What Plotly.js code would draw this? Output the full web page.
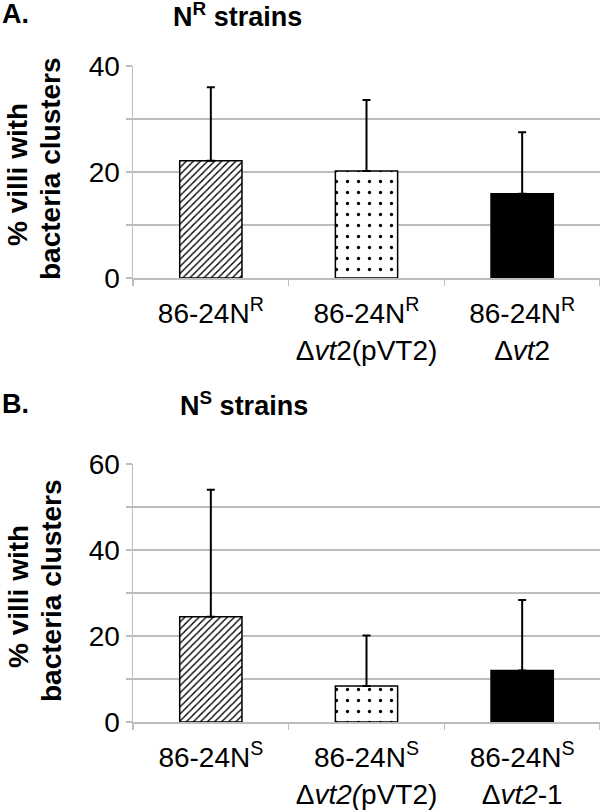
<!DOCTYPE html>
<html>
<head>
<meta charset="utf-8">
<script src="https://cdn.plot.ly/plotly-3.0.1.min.js"></script>
<style>
  body { margin: 0; background: white; }
  #chart { width: 600px; height: 811px; }
</style>
</head>
<body>
<div id="chart"></div>
<script>
// Panel A - N^R strains
var strainsA = ['86-24NR', '86-24NR dvt2(pVT2)', '86-24NR dvt2'];
var labelsA = ['86-24N<sup>R</sup>', '86-24N<sup>R</sup><br>\u0394<i>vt</i>2(pVT2)', '86-24N<sup>R</sup><br>\u0394<i>vt</i>2'];
var valuesA = [22.1, 20.2, 15.9];
var errorA = [13.9, 13.4, 11.6];

// Panel B - N^S strains
var strainsB = ['86-24NS', '86-24NS dvt2(pVT2)', '86-24NS dvt2-1'];
var labelsB = ['86-24N<sup>S</sup>', '86-24N<sup>S</sup><br>\u0394<i>vt2(</i>pVT2)', '86-24N<sup>S</sup><br>\u0394<i>vt2</i>-1'];
var valuesB = [24.5, 8.4, 12.0];
var errorB = [29.5, 11.7, 16.4];

var font = 'Liberation Sans, Arial, Helvetica, sans-serif';
var gray = '#bdbdbd';

// fill style of each bar: hatched, dotted, solid black
var fills = [
  {color: 'white', shape: '/', size: 5, solidity: 0.28},
  {color: 'white', shape: '.', size: 11, solidity: 0.07},
  {color: 'black', shape: '', size: 8, solidity: 0.3}
];

function barTraces(cats, vals, errs, xa, ya) {
  return cats.map(function(c, i) {
    var f = fills[i];
    return {
      x: [c],
      y: [vals[i]],
      type: 'bar',
      width: 0.4,
      marker: {
        color: f.color,
        line: {color: 'black', width: 1.5},
        pattern: {shape: f.shape, fillmode: 'replace', fgcolor: 'black', bgcolor: f.color,
          fgopacity: 1, size: f.size, solidity: f.solidity}
      },
      error_y: {type: 'data', symmetric: false, array: [errs[i]], arrayminus: [0],
        color: 'black', thickness: 2, width: 4},
      xaxis: xa,
      yaxis: ya,
      showlegend: false
    };
  });
}

var data = barTraces(strainsA, valuesA, errorA, 'x', 'y')
  .concat(barTraces(strainsB, valuesB, errorB, 'x2', 'y2'));

function xAxis(anchor, labels, cats) {
  return {
    anchor: anchor,
    type: 'category',
    categoryorder: 'array',
    categoryarray: cats,
    tickvals: cats,
    ticktext: labels,
    tickson: 'boundaries',
    ticks: 'outside',
    ticklen: 6,
    tickcolor: gray,
    tickwidth: 1.5,
    ticklabelstandoff: 10,
    showline: true,
    linecolor: gray,
    linewidth: 1.5,
    showgrid: false,
    tickfont: {family: font, size: 28, color: 'black'},
    automargin: false
  };
}

function yAxis(anchor, domain, max, vals, text) {
  return {
    anchor: anchor,
    domain: domain,
    range: [0, max],
    tickvals: vals,
    ticktext: text,
    ticks: 'outside',
    ticklen: 6,
    tickcolor: gray,
    tickwidth: 1.5,
    showline: true,
    linecolor: gray,
    linewidth: 1.5,
    showgrid: true,
    gridcolor: gray,
    gridwidth: 1.5,
    zeroline: false,
    tickfont: {family: font, size: 28, color: 'black'},
    automargin: false
  };
}

function note(text, x, y, size, angle) {
  return {
    text: text, xref: 'paper', yref: 'paper', x: x, y: y,
    xanchor: angle ? 'center' : 'left', yanchor: 'middle',
    textangle: angle || 0, showarrow: false,
    font: {family: font, size: size, color: 'black'}
  };
}

// paper coords for margin l=133, plot width 467, full height 811
function px(v) { return (v - 133) / 467; }
function py(v) { return 1 - v / 811; }

var layout = {
  width: 600,
  height: 811,
  margin: {l: 133, r: 0, t: 0, b: 0},
  paper_bgcolor: 'white',
  plot_bgcolor: 'white',
  barmode: 'overlay',
  xaxis: xAxis('y', labelsA, strainsA),
  yaxis: yAxis('x', [py(278), py(66)], 40, [0, 10, 20, 30, 40], ['0', '', '20', '', '40']),
  xaxis2: xAxis('y2', labelsB, strainsB),
  yaxis2: yAxis('x2', [py(722), py(464)], 60, [0, 10, 20, 30, 40, 50, 60], ['0', '', '20', '', '40', '', '60']),
  annotations: [
    note('<b>A.</b>', px(0), py(14), 27),
    note('<b>N<sup>R</sup> strains</b>', px(171), py(15), 27),
    note('<b>% villi with</b>', px(18), py(175), 28, -90),
    note('<b>bacteria clusters</b>', px(51), py(169), 28, -90),
    note('<b>B.</b>', px(0), py(404), 27),
    note('<b>N<sup>S</sup> strains</b>', px(178), py(404), 27),
    note('<b>% villi with</b>', px(18), py(597), 28, -90),
    note('<b>bacteria clusters</b>', px(51), py(591), 28, -90)
  ]
};

Plotly.newPlot('chart', data, layout, {displayModeBar: false, staticPlot: true});
</script>
</body>
</html>
